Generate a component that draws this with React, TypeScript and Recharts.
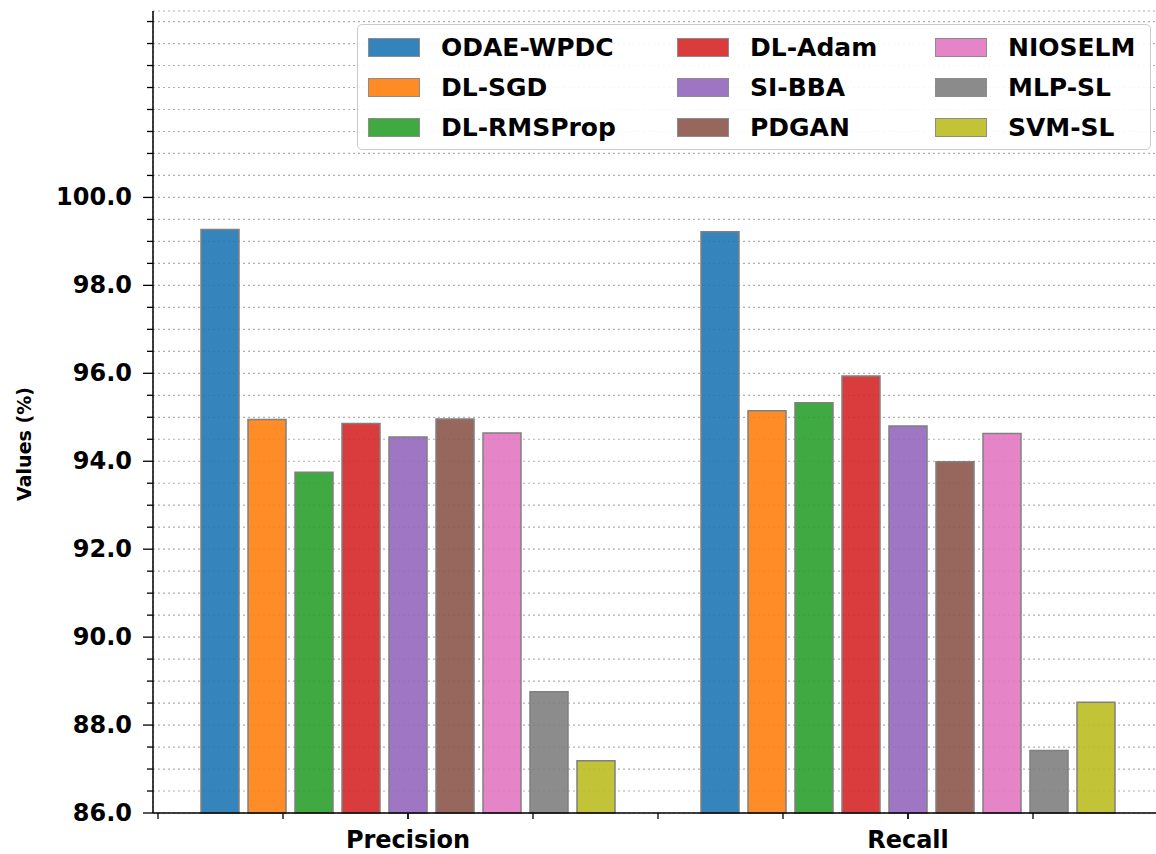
import {
  ComposedChart,
  Bar,
  Scatter,
  XAxis,
  YAxis,
  CartesianGrid,
  Legend,
} from "recharts";

const metrics = ["Precision", "Recall"];

const methods = [
  "ODAE-WPDC",
  "DL-SGD",
  "DL-RMSProp",
  "DL-Adam",
  "SI-BBA",
  "PDGAN",
  "NIOSELM",
  "MLP-SL",
  "SVM-SL",
];

const colors = [
  "#1f77b4",
  "#ff7f0e",
  "#2ca02c",
  "#d62728",
  "#9467bd",
  "#8c564b",
  "#e377c2",
  "#7f7f7f",
  "#bcbd22",
];

const precision = [99.27, 94.95, 93.75, 94.86, 94.55, 94.96, 94.64, 88.76, 87.19];
const recall = [99.22, 95.15, 95.33, 95.94, 94.8, 93.99, 94.63, 87.42, 88.52];

const yMajorTicks = [86, 88, 90, 92, 94, 96, 98, 100];
const yMinorTicks = [
  86, 86.5, 87, 87.5, 88, 88.5, 89, 89.5, 90, 90.5, 91, 91.5, 92, 92.5, 93,
  93.5, 94, 94.5, 95, 95.5, 96, 96.5, 97, 97.5, 98, 98.5, 99, 99.5, 100, 100.5,
  101, 101.5, 102, 102.5, 103, 103.5, 104,
];
const xMinorTicks = [-0.5, -0.25, 0, 0.25, 0.5, 0.75, 1, 1.25, 1.5];
const yMin = 86;
const yMax = 104.24;

const seriesValues = [precision, recall];
const data = metrics.map((m, i) => {
  const row: Record<string, string | number> = { metric: m };
  methods.forEach((name, j) => {
    row[name] = seriesValues[i][j];
  });
  return row;
});

// points on the baseline used to hang the minor x tick marks
const tickMarks = xMinorTicks.map((v) => ({ tx: v, ty: yMin }));

const FONT = "'DejaVu Sans', sans-serif";

const YTick = (props: any) => {
  const { x, y, payload } = props;
  const major = yMajorTicks.includes(payload.value);
  return (
    <g>
      <line
        x1={x - (major ? 10 : 6)}
        x2={x}
        y1={y}
        y2={y}
        stroke="#000"
        strokeWidth={1.3}
      />
      {major && (
        <text
          x={x - 21}
          y={y}
          dy={8}
          textAnchor="end"
          fontFamily={FONT}
          fontWeight="bold"
          fontSize={24}
          fill="#000"
        >
          {payload.value.toFixed(1)}
        </text>
      )}
    </g>
  );
};

const TickMark = (props: any) => {
  const { cx, cy } = props;
  return (
    <line x1={cx} x2={cx} y1={cy} y2={cy + 6} stroke="#000" strokeWidth={1.3} />
  );
};

// y arrives already moved down by tickSize (6)
const XTick = (props: any) => {
  const { x, y, payload } = props;
  return (
    <text
      x={x}
      y={y + 29}
      textAnchor="middle"
      fontFamily={FONT}
      fontWeight="bold"
      fontSize={24}
      fill="#000"
    >
      {payload.value}
    </text>
  );
};

const YLabel = (props: any) => {
  const { viewBox } = props;
  const cx = viewBox.x + 24;
  const cy = viewBox.y + viewBox.height / 2 + 32;
  return (
    <text
      x={cx}
      y={cy}
      transform={`rotate(-90, ${cx}, ${cy})`}
      textAnchor="middle"
      dominantBaseline="central"
      fontFamily={FONT}
      fontWeight="bold"
      fontSize={19}
      fill="#000"
    >
      Values (%)
    </text>
  );
};

const LegendBox = () => {
  return (
    <div
      style={{
        boxSizing: "border-box",
        width: 794,
        height: 126,
        border: "1.5px solid #cccccc",
        borderRadius: 5,
        background: "rgba(255,255,255,0.9)",
        padding: "2px 0 0 10px",
        display: "grid",
        gridTemplateRows: "40px 40px 40px",
        gridTemplateColumns: "309px 258px auto",
        gridAutoFlow: "column",
        fontFamily: FONT,
        fontWeight: "bold",
        fontSize: 25,
        color: "#000",
      }}
    >
      {methods.map((name, i) => (
        <div
          key={name}
          style={{ display: "flex", alignItems: "center", whiteSpace: "nowrap" }}
        >
          <span
            style={{
              display: "inline-block",
              width: 52,
              height: 19,
              background: colors[i],
              opacity: 0.9,
              border: "1.5px solid #808080",
              boxSizing: "border-box",
              marginRight: 21,
            }}
          />
          {name}
        </div>
      ))}
    </div>
  );
};

export default function App() {
  return (
    <div
      style={{
        position: "absolute",
        left: 0,
        top: 0,
        width: 1156,
        height: 854,
        overflow: "hidden",
        background: "#fff",
        fontFamily: FONT,
      }}
    >
      <ComposedChart
        width={1170}
        height={854}
        data={data}
        margin={{ top: 11, right: 7, left: 0, bottom: 0 }}
        barSize={38}
        barGap={9}
      >
        <CartesianGrid
          xAxisId="minor"
          yAxisId="y"
          stroke="#b0b0b0"
          strokeWidth={1.2}
          strokeDasharray="2 3"
        />
        <XAxis
          xAxisId="cat"
          dataKey="metric"
          type="category"
          padding={{ left: 5, right: 5 }}
          height={41}
          tickSize={6}
          tickMargin={0}
          tickLine={{ stroke: "#000", strokeWidth: 1.3 }}
          tick={<XTick />}
          axisLine={{ stroke: "#000", strokeWidth: 1.5 }}
        />
        <XAxis
          xAxisId="minor"
          dataKey="tx"
          type="number"
          domain={[-0.5, 1.5]}
          ticks={xMinorTicks}
          interval={0}
          padding={{ left: 5, right: 5 }}
          height={0}
          tickLine={false}
          tick={false}
          axisLine={false}
        />
        <XAxis
          xAxisId="top"
          orientation="top"
          type="number"
          domain={[0, 1]}
          height={0}
          tick={false}
          tickLine={false}
          axisLine={{ stroke: "#000", strokeWidth: 1.5 }}
        />
        <YAxis
          yAxisId="y"
          type="number"
          domain={[yMin, yMax]}
          ticks={yMinorTicks}
          interval={0}
          width={153}
          tickLine={false}
          tickSize={0}
          tickMargin={0}
          tick={<YTick />}
          axisLine={{ stroke: "#000", strokeWidth: 1.5 }}
          label={<YLabel />}
        />
        <Legend
          layout="horizontal"
          verticalAlign="middle"
          align="center"
          wrapperStyle={{ left: 357, top: 24, width: 794 }}
          content={() => <LegendBox />}
        />
        {methods.map((name, i) => (
          <Bar
            key={name}
            xAxisId="cat"
            yAxisId="y"
            dataKey={name}
            fill={colors[i]}
            fillOpacity={0.9}
            stroke="#808080"
            strokeWidth={1.5}
            isAnimationActive={false}
          />
        ))}
        <Scatter
          xAxisId="minor"
          yAxisId="y"
          data={tickMarks}
          dataKey="ty"
          shape={<TickMark />}
          isAnimationActive={false}
        />
      </ComposedChart>
    </div>
  );
}
